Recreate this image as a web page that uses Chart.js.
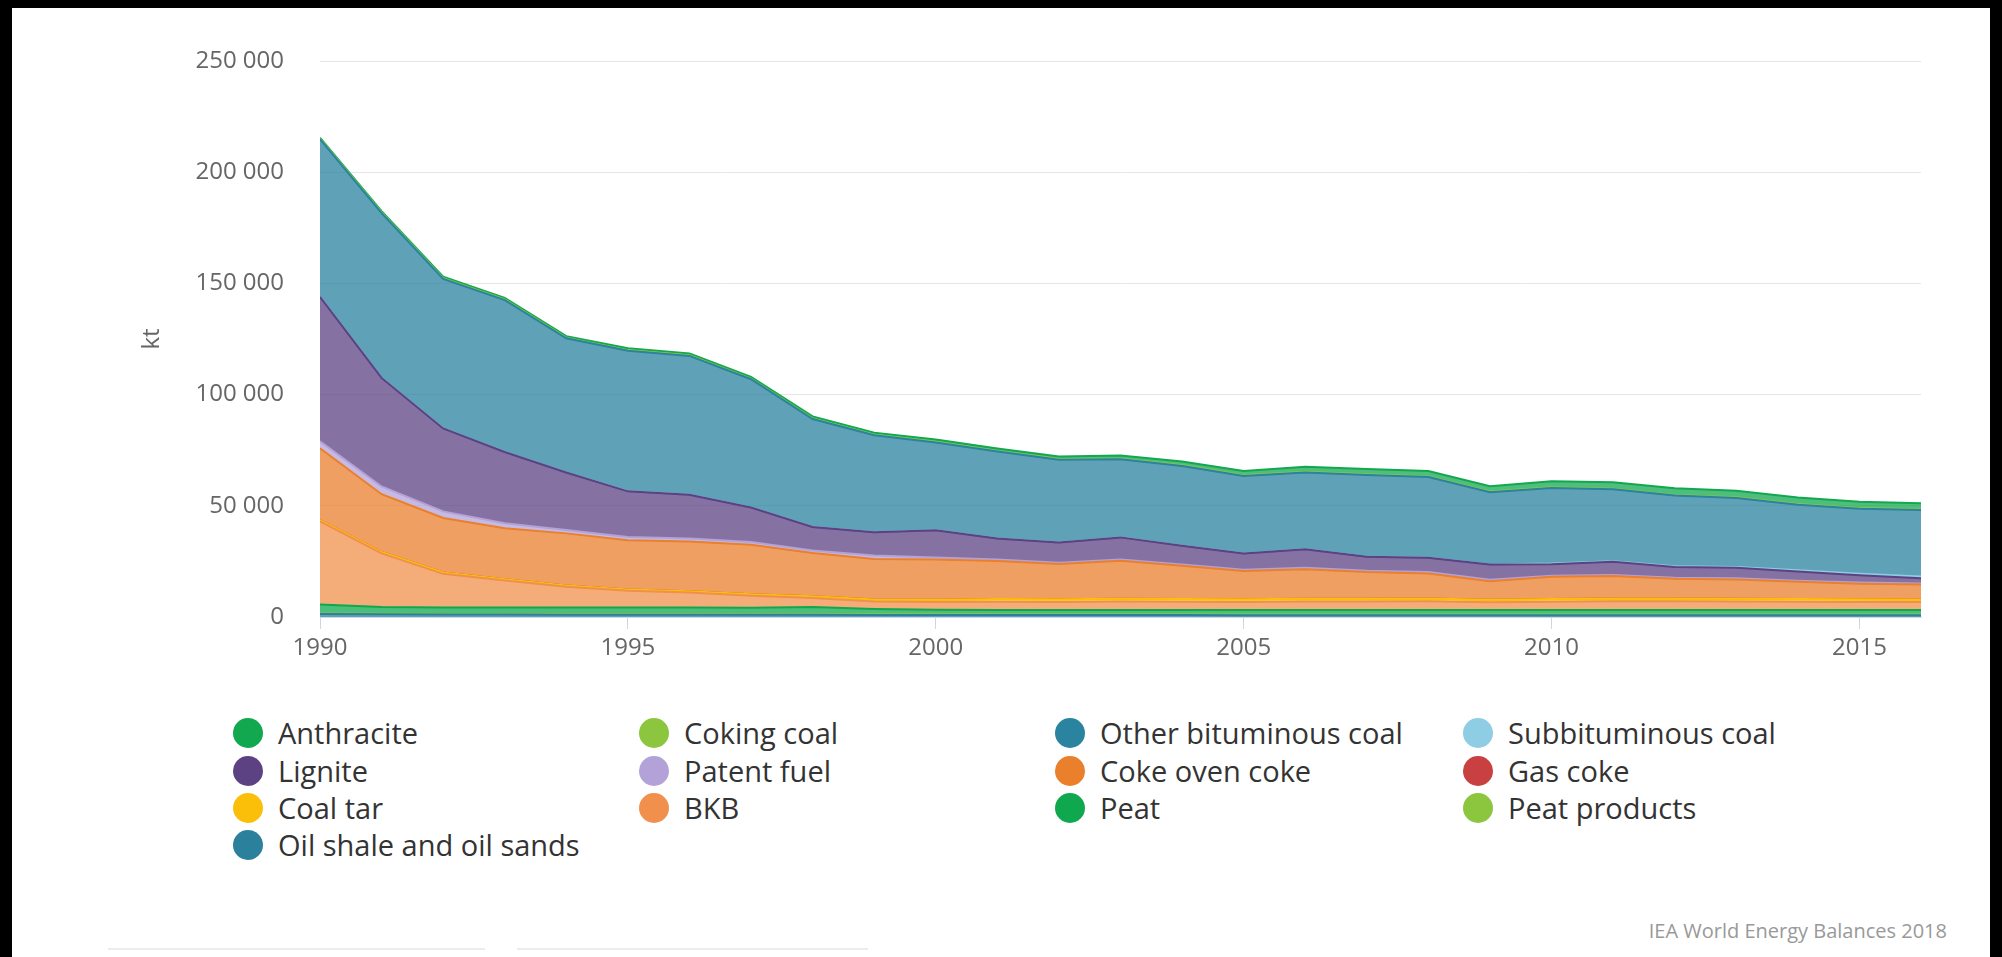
<!DOCTYPE html>
<html>
<head>
<meta charset="utf-8">
<title>Coal supply by product, 1990-2016</title>
<script src="https://cdn.jsdelivr.net/npm/chart.js@4/dist/chart.umd.min.js"></script>
<style>
  html, body { margin: 0; padding: 0; }
  body { width: 2002px; height: 957px; background: #000; position: relative; overflow: hidden; font-family: "Open Sans", "DejaVu Sans", sans-serif; }
  #panel { position: absolute; left: 12px; top: 8px; right: 12px; bottom: 0; background: #fff; }
  #chartBox { position: absolute; left: 0; top: 0; width: 1960px; height: 680px; }
  #legend { position: absolute; left: 0; top: 0; }
  .item { position: absolute; height: 38px; line-height: 38px; white-space: nowrap;
          font-size: 29px; color: #333; }
  .dot { position: absolute; width: 30px; height: 30px; border-radius: 50%; }
  .credit { position: absolute; right: 55px; top: 917px; font-size: 20px; color: #999; }
  .bar { position: absolute; top: 948px; height: 9px; border-top: 2px solid #ececec; }
</style>
</head>
<body>
<div id="panel"></div>
<div id="chartBox"><canvas id="chart" width="1960" height="680"></canvas></div>
<div id="legend"></div>
<div class="credit">IEA World Energy Balances 2018</div>
<div class="bar" style="left:108px;width:377px"></div>
<div class="bar" style="left:517px;width:351px"></div>
<script>
// Years on the x axis
const years = [1990,1991,1992,1993,1994,1995,1996,1997,1998,1999,2000,2001,2002,2003,2004,2005,2006,2007,2008,2009,2010,2011,2012,2013,2014,2015,2016];

// Supply by product, kt
const anthracite = [300,600,700,700,700,800,800,800,900,900,1000,1100,1200,1400,1700,1900,2300,2300,2400,2400,2700,2900,3000,3000,2900,2800,2700];
const cokingCoal = [300,300,300,300,300,300,300,300,300,300,300,300,300,300,300,300,300,300,300,300,300,300,300,300,300,300,300];
const otherBituminousCoal = [70900,74100,67200,68300,60300,63200,62400,57700,48500,43600,39500,39100,37200,35100,35900,34800,34500,36800,36300,32500,34000,32300,31800,31000,29500,29300,29900];
const subbituminousCoal = [0,0,0,0,0,0,0,0,0,0,0,0,0,0,0,0,0,0,0,0,300,300,300,400,500,600,800];
const lignite = [65000,48800,37300,32000,25900,20500,19700,15500,10600,10500,12200,9500,9100,9900,8400,7300,8400,6300,6400,6900,5100,5900,4800,4700,4200,3300,2300];
const patentFuel = [3100,3500,3000,2300,1500,1500,1300,1200,1100,1500,1000,600,600,600,600,600,600,600,600,600,500,500,500,500,500,500,500];
const cokeOvenCoke = [32300,26000,24500,22900,23400,22100,22400,22300,19500,18200,18000,17100,15800,17100,14900,12700,13300,12000,11300,8300,10000,10100,8900,8700,7700,7000,6700];
const gasCoke = [0,0,0,0,0,0,0,0,0,0,0,0,0,0,0,0,0,0,0,0,0,0,0,0,0,0,0];
const coalTar = [600,600,600,600,600,600,600,700,800,900,1000,1200,1200,1200,1200,1200,1200,1200,1200,1200,1200,1200,1200,1200,1200,1200,1200];
const bkb = [37400,24100,15100,12100,9300,7500,6700,5300,4000,3400,3500,3700,3600,3800,3700,3700,3800,3800,3900,3500,3800,3900,3900,3900,3800,3700,3600];
const peat = [4000,3000,2900,2900,3000,3000,3000,2900,3200,2400,2100,2000,2000,2000,2000,2000,2100,2100,2100,2000,2000,2100,2100,2000,2000,2000,2000];
const peatProducts = [300,300,300,300,300,300,300,300,300,300,300,300,300,300,300,300,300,300,300,300,300,300,300,300,300,300,300];
const oilShaleAndOilSands = [1300,1200,1100,1100,1000,1000,1000,1000,1000,900,900,900,900,900,900,800,800,800,800,800,800,800,800,800,800,800,800];

// Y axis tick values
const yTicks = [0, 50000, 100000, 150000, 200000, 250000];

// Series in legend order (the first one sits on top of the stack)
const series = [
  { name: "Anthracite", data: anthracite, color: "#12a84f" },
  { name: "Coking coal", data: cokingCoal, color: "#8cc63f" },
  { name: "Other bituminous coal", data: otherBituminousCoal, color: "#2a839f" },
  { name: "Subbituminous coal", data: subbituminousCoal, color: "#8ecde3" },
  { name: "Lignite", data: lignite, color: "#5c4283" },
  { name: "Patent fuel", data: patentFuel, color: "#b3a2d8" },
  { name: "Coke oven coke", data: cokeOvenCoke, color: "#ea7f2c" },
  { name: "Gas coke", data: gasCoke, color: "#c8403f" },
  { name: "Coal tar", data: coalTar, color: "#fbbf0a" },
  { name: "BKB", data: bkb, color: "#f0904c" },
  { name: "Peat", data: peat, color: "#10a84f" },
  { name: "Peat products", data: peatProducts, color: "#8cc63f" },
  { name: "Oil shale and oil sands", data: oilShaleAndOilSands, color: "#2b819b" }
];

function withAlpha(hex, a) {
  const n = parseInt(hex.slice(1), 16);
  return `rgba(${(n >> 16) & 255},${(n >> 8) & 255},${n & 255},${a})`;
}

// Stack from the bottom up: last legend entry first
const stackOrder = series.slice().reverse();
const datasets = stackOrder.map((s, i) => ({
  label: s.name,
  data: s.data.map((v, k) => ({ x: years[k], y: v })),
  borderColor: s.color,
  backgroundColor: withAlpha(s.color, 0.75),
  borderWidth: 2,
  pointRadius: 0,
  pointHoverRadius: 0,
  tension: 0,
  fill: i === 0 ? 'origin' : '-1'
}));

const fmt = v => String(v).replace(/\B(?=(\d{3})+(?!\d))/g, ' ');

new Chart(document.getElementById('chart'), {
  type: 'line',
  data: { datasets },
  options: {
    responsive: false,
    animation: false,
    devicePixelRatio: 1,
    layout: { padding: { top: 61, right: 39, bottom: 0, left: 0 } },
    plugins: { legend: { display: false }, tooltip: { enabled: false } },
    scales: {
      x: {
        type: 'linear',
        min: years[0],
        max: years[years.length - 1],
        afterFit: s => { s.height = 63; },
        grid: { display: true, drawOnChartArea: false, drawTicks: true, tickLength: 12, color: '#ccd6eb' },
        border: { display: true, color: '#ccd6eb' },
        ticks: {
          stepSize: 5, includeBounds: false, padding: 5,
          color: '#666', font: { family: 'Open Sans', size: 24 },
          callback: v => String(v)
        }
      },
      y: {
        stacked: true,
        min: yTicks[0],
        max: yTicks[yTicks.length - 1],
        afterFit: s => { s.width = 320; },
        afterBuildTicks: s => { s.ticks = yTicks.map(v => ({ value: v })); },
        grid: { color: '#e6e6e6', drawTicks: false },
        border: { display: false },
        ticks: { padding: 36, color: '#666', font: { family: 'Open Sans', size: 24 }, callback: v => fmt(v) },
        title: { display: true, text: 'kt', color: '#666', font: { family: 'Open Sans', size: 24 }, padding: { top: 138 } }
      }
    }
  }
});

// Legend: four columns, filled row by row
const colX = [233, 639, 1055, 1463];
const rowY = [733, 771, 808, 845];
const legend = document.getElementById('legend');
series.forEach((s, i) => {
  const c = i % 4, r = Math.floor(i / 4);
  const dot = document.createElement('div');
  dot.className = 'dot';
  dot.style.left = colX[c] + 'px';
  dot.style.top = (rowY[r] - 15) + 'px';
  dot.style.background = s.color;
  legend.appendChild(dot);
  const it = document.createElement('div');
  it.className = 'item';
  it.style.left = (colX[c] + 45) + 'px';
  it.style.top = (rowY[r] - 19) + 'px';
  it.textContent = s.name;
  legend.appendChild(it);
});
</script>
</body>
</html>
